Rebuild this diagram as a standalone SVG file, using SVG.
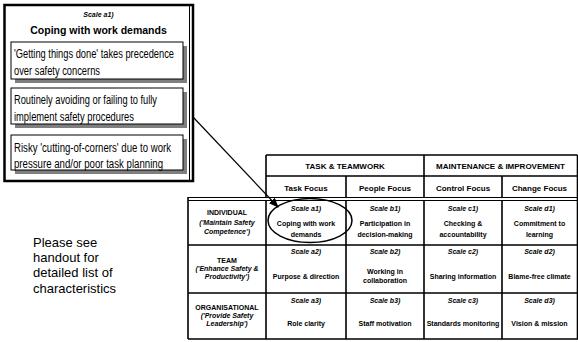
<svg xmlns="http://www.w3.org/2000/svg" width="578" height="342" viewBox="0 0 578 342">
<defs>
<marker id="ah" markerWidth="10" markerHeight="8" refX="9" refY="4" orient="auto" markerUnits="userSpaceOnUse">
<path d="M0,0 L10,4 L0,8 z" fill="#000"/>
</marker>
<style>
.t{font-family:"Liberation Sans",Arial,sans-serif;fill:#000}
.b7{font-size:7px;font-weight:bold;text-anchor:middle}
.i7{font-size:7px;font-weight:bold;font-style:italic;text-anchor:middle}
.h8{font-size:8px;font-weight:bold;text-anchor:middle}
.pt{font-size:12.5px}
.box{fill:#fff;stroke:#000;stroke-width:1}
.sh{fill:#7f7f7f}
.ln{stroke:#000;stroke-width:1.6;fill:none}
.th{stroke:#000;stroke-width:1;fill:none}
</style>
</defs>
<rect width="578" height="342" fill="#fff"/>

<g id="popup">
<rect x="4.5" y="5" width="188.5" height="176" fill="#fff" stroke="#000" stroke-width="2.5"/>
<line x1="189.5" y1="6" x2="189.5" y2="180" class="th"/>
<text class="t i7" x="98.5" y="17" font-size="6.5">Scale a1)</text>
<text class="t" x="98.5" y="34" font-size="10.5" font-weight="bold" text-anchor="middle">Coping with work demands</text>
<g id="item1">
<rect class="sh" x="15" y="46" width="172" height="37"/>
<rect class="box" x="11" y="42" width="172" height="37"/>
<text class="t pt" x="14" y="57.5" textLength="160" lengthAdjust="spacingAndGlyphs">'Getting things done' takes precedence</text>
<text class="t pt" x="14" y="74.5" textLength="86" lengthAdjust="spacingAndGlyphs">over safety concerns</text>
</g>
<g id="item2">
<rect class="sh" x="15" y="92" width="172" height="36"/>
<rect class="box" x="11" y="88" width="172" height="36"/>
<text class="t pt" x="14" y="103.5" textLength="143" lengthAdjust="spacingAndGlyphs">Routinely avoiding or failing to fully</text>
<text class="t pt" x="14" y="120.5" textLength="120" lengthAdjust="spacingAndGlyphs">implement safety procedures</text>
</g>
<g id="item3">
<rect class="sh" x="15" y="139" width="172" height="35"/>
<rect class="box" x="11" y="135" width="172" height="35"/>
<text class="t pt" x="14" y="151.5" textLength="157" lengthAdjust="spacingAndGlyphs">Risky 'cutting-of-corners' due to work</text>
<text class="t pt" x="14" y="167.5" textLength="149" lengthAdjust="spacingAndGlyphs">pressure and/or poor task planning</text>
</g>
</g>

<g id="note">
<text class="t" x="33" y="247" font-size="13" fill="#1a1a1a">Please see</text>
<text class="t" x="33" y="262" font-size="13" fill="#1a1a1a">handout for</text>
<text class="t" x="33" y="277" font-size="13" fill="#1a1a1a">detailed list of</text>
<text class="t" x="33" y="293" font-size="13" fill="#1a1a1a">characteristics</text>
</g>

<g id="table">
<g id="header">
<path class="ln" d="M266,155 H577.5 M266,176 H577.5 M266,155 V197 M424,155 V197 M346,176 V197 M502,176 V197 M577.5,155 V197"/>
<text class="t h8" x="345" y="169">TASK &amp; TEAMWORK</text>
<text class="t h8" x="500.5" y="169">MAINTENANCE &amp; IMPROVEMENT</text>
<text class="t h8" x="306" y="190.5">Task Focus</text>
<text class="t h8" x="385" y="190.5">People Focus</text>
<text class="t h8" x="463" y="190.5">Control Focus</text>
<text class="t h8" x="539.5" y="190.5">Change Focus</text>
</g>
<g id="grid">
<path class="th" d="M188,197.5 H578 M188,200.5 H578"/>
<path class="ln" d="M188,197 V339 M266,200 V339 M346,200 V339 M424,200 V339 M502,200 V339 M577.5,197 V339 M188,245 H578 M188,293 H578 M188,339 H578"/>
</g>
<g id="levels">
<text class="t b7" x="227" y="214.5">INDIVIDUAL</text>
<text class="t i7" x="227" y="224.5">('Maintain Safety</text>
<text class="t i7" x="227" y="233.5">Competence')</text>
<text class="t b7" x="227" y="262.5">TEAM</text>
<text class="t i7" x="227" y="270.5">('Enhance Safety &amp;</text>
<text class="t i7" x="227" y="278.5">Productivity')</text>
<text class="t b7" x="227" y="309.5">ORGANISATIONAL</text>
<text class="t i7" x="227" y="317.5">('Provide Safety</text>
<text class="t i7" x="227" y="325.5">Leadership')</text>
</g>
<g id="row1">
<text class="t i7" x="306" y="210.5">Scale a1)</text>
<text class="t b7" x="306" y="225.5">Coping with work</text>
<text class="t b7" x="306" y="236.5">demands</text>
<text class="t i7" x="385" y="210.5">Scale b1)</text>
<text class="t b7" x="385" y="225.5">Participation in</text>
<text class="t b7" x="385" y="236.5">decision-making</text>
<text class="t i7" x="463" y="210.5">Scale c1)</text>
<text class="t b7" x="463" y="225.5">Checking &amp;</text>
<text class="t b7" x="463" y="236.5">accountability</text>
<text class="t i7" x="539.5" y="210.5">Scale d1)</text>
<text class="t b7" x="539.5" y="225.5">Commitment to</text>
<text class="t b7" x="539.5" y="236.5">learning</text>
</g>
<g id="row2">
<text class="t i7" x="306" y="253.5">Scale a2)</text>
<text class="t b7" x="306" y="278.5">Purpose &amp; direction</text>
<text class="t i7" x="385" y="253.5">Scale b2)</text>
<text class="t b7" x="385" y="273.5">Working in</text>
<text class="t b7" x="385" y="282.5">collaboration</text>
<text class="t i7" x="463" y="253.5">Scale c2)</text>
<text class="t b7" x="463" y="278.5">Sharing information</text>
<text class="t i7" x="539.5" y="253.5">Scale d2)</text>
<text class="t b7" x="539.5" y="278.5">Blame-free climate</text>
</g>
<g id="row3">
<text class="t i7" x="306" y="302.5">Scale a3)</text>
<text class="t b7" x="306" y="325.5">Role clarity</text>
<text class="t i7" x="385" y="302.5">Scale b3)</text>
<text class="t b7" x="385" y="325.5">Staff motivation</text>
<text class="t i7" x="463" y="302.5">Scale c3)</text>
<text class="t b7" x="463" y="325.5">Standards monitoring</text>
<text class="t i7" x="539.5" y="302.5">Scale d3)</text>
<text class="t b7" x="539.5" y="325.5">Vision &amp; mission</text>
</g>
</g>

<g id="connectors">
<ellipse cx="310" cy="220.5" rx="42" ry="22" fill="none" stroke="#000" stroke-width="1.5"/>
<line x1="193" y1="117" x2="278" y2="207" stroke="#000" stroke-width="1.2" marker-end="url(#ah)"/>
</g>
</svg>
